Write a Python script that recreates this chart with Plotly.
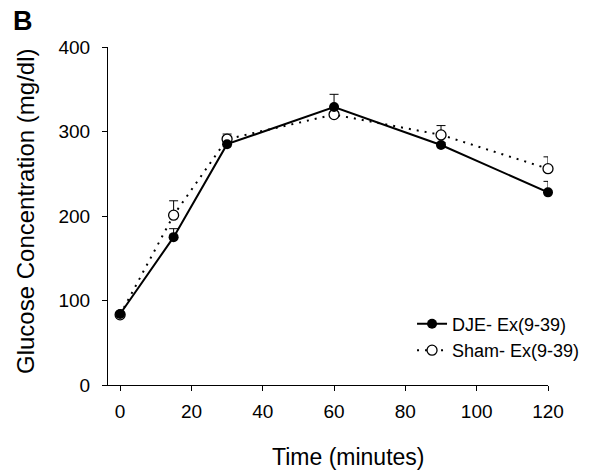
import plotly.graph_objects as go

time_min = [0, 15, 30, 60, 90, 120]
dje_mean = [84, 175, 285, 329, 284, 228]
dje_err = [2, 10, 3, 15, 3, 13]
sham_mean = [83, 201, 291, 320, 296, 256]
sham_err = [2, 17, 6, 3, 11, 14]
zeros = [0] * len(time_min)

font = "Liberation Sans, Arial, sans-serif"

fig = go.Figure()
# error bars (drawn underneath markers)
for y, e in [(sham_mean, sham_err), (dje_mean, dje_err)]:
    fig.add_trace(go.Scatter(
        x=time_min, y=y, mode="markers", showlegend=False, hoverinfo="skip",
        marker=dict(size=1, color="rgba(0,0,0,0)"),
        error_y=dict(type="data", array=e, arrayminus=zeros, symmetric=False,
                     color="black", thickness=1, width=4.5),
        cliponaxis=False,
    ))
fig.add_trace(go.Scatter(
    x=time_min, y=sham_mean, name="Sham- Ex(9-39)", mode="lines+markers",
    line=dict(color="black", width=2, dash="2px,6px"),
    marker=dict(symbol="circle", size=10, color="white", line=dict(width=1.3, color="black")),
    cliponaxis=False,
))
fig.add_trace(go.Scatter(
    x=time_min, y=dje_mean, name="DJE- Ex(9-39)", mode="lines+markers",
    line=dict(color="black", width=2),
    marker=dict(symbol="circle", size=10, color="black"),
    cliponaxis=False,
))

fig.update_layout(
    width=608, height=471,
    margin=dict(l=108, r=60, t=47, b=86),
    paper_bgcolor="white", plot_bgcolor="white",
    font=dict(family=font, size=19, color="black"),
    showlegend=True,
    legend=dict(x=0.691, y=0.235, xanchor="left", yanchor="top",
                traceorder="reversed", font=dict(size=18),
                bgcolor="rgba(0,0,0,0)", tracegroupgap=0),
    xaxis=dict(range=[-3.4, 120], tickvals=[0, 20, 40, 60, 80, 100, 120],
               showline=True, linecolor="black", linewidth=1,
               ticks="outside", ticklen=5, tickcolor="black",
               showgrid=False, zeroline=False, ticklabelstandoff=4),
    yaxis=dict(range=[0, 400], tickvals=[0, 100, 200, 300, 400],
               showline=True, linecolor="black", linewidth=1,
               ticks="outside", ticklen=5, tickcolor="black",
               showgrid=False, zeroline=False, ticklabelstandoff=8),
    annotations=[
        dict(text="<b>B</b>", x=0, y=1, xref="paper", yref="paper",
             xanchor="left", yanchor="top", xshift=-97, yshift=43,
             showarrow=False, font=dict(size=27, family=font)),
        dict(text="Time (minutes)", x=348, y=457, xref="paper", yref="paper",
             xanchor="center", yanchor="middle",
             showarrow=False, font=dict(size=23, family=font)),
        dict(text="Glucose Concentration (mg/dl)", x=25, y=212, textangle=-90,
             xref="paper", yref="paper", xanchor="center", yanchor="middle",
             showarrow=False, font=dict(size=24, family=font)),
    ],
)
# convert pixel positions of the title annotations into paper coordinates
pw, ph = 608 - 108 - 60, 471 - 47 - 86
for a in fig.layout.annotations[1:]:
    a.x = (a.x - 108) / pw
    a.y = (471 - 86 - a.y) / ph
fig.write_html("out.html")
